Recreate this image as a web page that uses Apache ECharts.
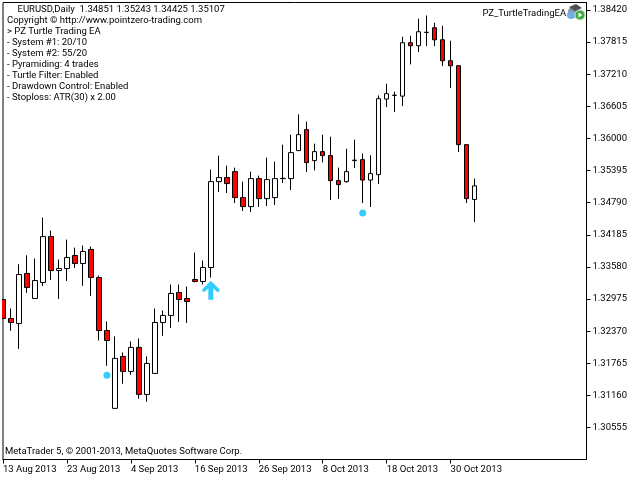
<!DOCTYPE html>
<html><head><meta charset="utf-8">
<style>html,body{margin:0;padding:0;background:#fff}#c{width:640px;height:480px}</style>
<script src="https://cdn.jsdelivr.net/npm/echarts@6/dist/echarts.min.js"></script>
</head><body><div id="c"></div>
<script>
var dates = ["13 Aug 2013","14 Aug 2013","15 Aug 2013","16 Aug 2013","19 Aug 2013","20 Aug 2013","21 Aug 2013","22 Aug 2013",
"23 Aug 2013","26 Aug 2013","27 Aug 2013","28 Aug 2013","29 Aug 2013","30 Aug 2013","2 Sep 2013","3 Sep 2013",
"4 Sep 2013","5 Sep 2013","6 Sep 2013","9 Sep 2013","10 Sep 2013","11 Sep 2013","12 Sep 2013","13 Sep 2013",
"16 Sep 2013","17 Sep 2013","18 Sep 2013","19 Sep 2013","20 Sep 2013","23 Sep 2013","24 Sep 2013","25 Sep 2013",
"26 Sep 2013","27 Sep 2013","30 Sep 2013","1 Oct 2013","2 Oct 2013","3 Oct 2013","4 Oct 2013","7 Oct 2013",
"8 Oct 2013","9 Oct 2013","10 Oct 2013","11 Oct 2013","14 Oct 2013","15 Oct 2013","16 Oct 2013","17 Oct 2013",
"18 Oct 2013","21 Oct 2013","22 Oct 2013","23 Oct 2013","24 Oct 2013","25 Oct 2013","28 Oct 2013","29 Oct 2013",
"30 Oct 2013","31 Oct 2013","1 Nov 2013","4 Nov 2013",
"","","","","","","","","","","","","",""];
var opens = [1.32967,1.32609,1.32515,1.33456,1.32986,1.33287,1.34152,1.33513,1.33550,1.33795,1.33644,1.33908,1.33381,1.32383,1.30916,1.31894,1.31612,1.32064,1.31179,1.31574,1.32534,1.32666,1.33099,1.32986,1.33343,1.33306,1.33569,1.35187,1.35263,1.35375,1.34886,1.34717,1.35244,1.34867,1.34886,1.35244,1.35244,1.35771,1.36166,1.35583,1.35752,1.35677,1.35206,1.35187,1.35583,1.35601,1.35217,1.35319,1.36742,1.36811,1.36798,1.37803,1.37747,1.37997,1.38085,1.37859,1.37464,1.37370,1.35884,1.34851];
var closes = [1.32609,1.32534,1.33437,1.33193,1.33324,1.34152,1.33513,1.33550,1.33757,1.33644,1.33870,1.33381,1.32383,1.32195,1.31857,1.31612,1.32064,1.31179,1.31762,1.32534,1.32666,1.33080,1.32967,1.32929,1.33306,1.33569,1.35187,1.35263,1.35150,1.34886,1.34717,1.35244,1.34867,1.35225,1.35244,1.35250,1.35733,1.36072,1.35545,1.35752,1.35677,1.35206,1.35131,1.35375,1.35592,1.35217,1.35338,1.36749,1.36843,1.36815,1.37803,1.37747,1.38010,1.38001,1.37859,1.37464,1.37370,1.35884,1.34867,1.35107];
var lows = [1.32596,1.32376,1.32037,1.33091,1.32986,1.33223,1.33336,1.32978,1.33317,1.33561,1.33223,1.33035,1.32195,1.31717,1.30916,1.31379,1.31548,1.31096,1.31040,1.31574,1.32282,1.32432,1.32545,1.32526,1.33287,1.33249,1.33381,1.34992,1.34973,1.34785,1.34634,1.34615,1.34709,1.34728,1.34747,1.35161,1.35029,1.35771,1.35368,1.35400,1.35551,1.34841,1.34860,1.35168,1.35443,1.34785,1.34709,1.35142,1.36591,1.36497,1.36610,1.37395,1.37626,1.37739,1.37739,1.37363,1.36949,1.35744,1.34785,1.34425];
var highs = [1.32972,1.32797,1.33631,1.33800,1.33738,1.34510,1.34265,1.33720,1.34096,1.33945,1.33983,1.33964,1.33418,1.32553,1.32271,1.31969,1.32176,1.32233,1.31894,1.32797,1.32760,1.33249,1.33249,1.33211,1.33851,1.33701,1.35413,1.35677,1.35488,1.35451,1.35187,1.35375,1.35300,1.35639,1.35564,1.35884,1.36072,1.36454,1.36316,1.35902,1.36072,1.36034,1.35451,1.35808,1.35978,1.35714,1.35682,1.36811,1.37031,1.36881,1.37916,1.37935,1.38255,1.38317,1.38179,1.38123,1.37841,1.37370,1.35884,1.35243];
var priceTicks = [1.38420,1.37815,1.37210,1.36605,1.36000,1.35395,1.34790,1.34185,1.33580,1.32975,1.32370,1.31765,1.31160,1.30555];
var dotDates = ["30 Aug 2013","15 Oct 2013"];
var dotPrices = [1.31542,1.34596];
var arrowDate = ["18 Sep 2013"];
var arrowPrice = [1.33142];
var headerText = "EURUSD,Daily  1.34851 1.35243 1.34425 1.35107";
var infoLines = ["Copyright © http://www.pointzero-trading.com","> PZ Turtle Trading EA","- System #1: 20/10","- System #2: 55/20","- Pyramiding: 4 trades","- Turtle Filter: Enabled","- Drawdown Control: Enabled","- Stoploss: ATR(30) x 2.00"];
var expertName = "PZ_TurtleTradingEA";
var footerText = "MetaTrader 5, © 2001-2013, MetaQuotes Software Corp.";

var FONT = 'Roboto';
var FS = 9.5;
var chart = echarts.init(document.getElementById('c'), null, {renderer:'canvas'});
function txt(x,y,t){return {type:'text',x:x,y:y,silent:true,z:50,style:{text:t,fill:'#000',font:FS+'px '+FONT,textVerticalAlign:'middle',textBaseline:'middle'}};}
var g = [
  {type:'rect',z:40,silent:true,shape:{x:0,y:0,width:2,height:480},style:{fill:'#fff'}},
  txt(17.5,9.5,headerText)
];
infoLines.forEach(function(l,i){g.push(txt(7,20.5+i*11,l));});
g.push(txt(482.5,14,expertName));
g.push(txt(5,452,footerText));
// terminal icon
g.push({type:'circle',z:51,shape:{cx:574,cy:12,r:6},style:{fill:'#8a929c'}});
g.push({type:'polygon',z:52,shape:{points:[[569,7],[576,4],[582,8],[575,11]]},style:{fill:'#4a5058'}});
g.push({type:'circle',z:52,shape:{cx:571,cy:15,r:4},style:{fill:'#6fb0ea'}});
g.push({type:'circle',z:53,shape:{cx:580,cy:15,r:5},style:{fill:'#3fa83f',stroke:'#cfe8bf',lineWidth:1}});
g.push({type:'polygon',z:54,shape:{points:[[578.5,12.5],[578.5,17.5],[582.5,15]]},style:{fill:'#fff'}});
var option = {
  animation:false,
  backgroundColor:'#fff',
  grid:{left:2.5,top:2.5,right:53.5,bottom:20.5,show:true,borderColor:'#000',borderWidth:1,backgroundColor:'#fff'},
  xAxis:{type:'category',data:dates,boundaryGap:false,
    axisLine:{show:true,lineStyle:{color:'#000',width:1}},
    axisTick:{show:true,interval:function(i){return i%8===0&&i<60;},length:4,lineStyle:{color:'#000'}},
    axisLabel:{interval:function(i){return i%8===0&&i<60;},color:'#000',fontFamily:FONT,fontSize:FS,align:'left',margin:5,hideOverlap:false},
    splitLine:{show:false}},
  yAxis:{type:'value',position:'right',min:1.29953,max:1.38561,scale:true,
    axisLine:{show:true,lineStyle:{color:'#000',width:1}},
    axisTick:{show:true,length:4,customValues:priceTicks,lineStyle:{color:'#000'}},
    axisLabel:{color:'#000',fontFamily:FONT,fontSize:FS,margin:6,customValues:priceTicks,formatter:function(v){return v.toFixed(5);}},
    splitLine:{show:false}},
  series:[
    {type:'candlestick',barWidth:5,
     data:opens.map(function(o,i){return [o,closes[i],lows[i],highs[i]];}),
     itemStyle:{color:'#ffffff',color0:'#ff0000',borderColor:'#000',borderColor0:'#000',borderColorDoji:'#000',borderWidth:1}},
    {type:'scatter',symbol:'circle',symbolSize:7,z:5,itemStyle:{color:'#00bfff'},
     data:dotDates.map(function(d,i){return [d,dotPrices[i]];})},
    {type:'scatter',z:5,symbol:'path://M8.5,0 L17,8.5 L17,11 L14.5,11 L11,7.5 L11,19 L6,19 L6,7.5 L2.5,11 L0,11 L0,8.5 Z',symbolSize:[17,19],itemStyle:{color:'#00bfff'},
     data:arrowDate.map(function(d,i){return [d,arrowPrice[i]];})}
  ],
  graphic:{elements:g}
};
chart.setOption(option);
</script></body></html>
